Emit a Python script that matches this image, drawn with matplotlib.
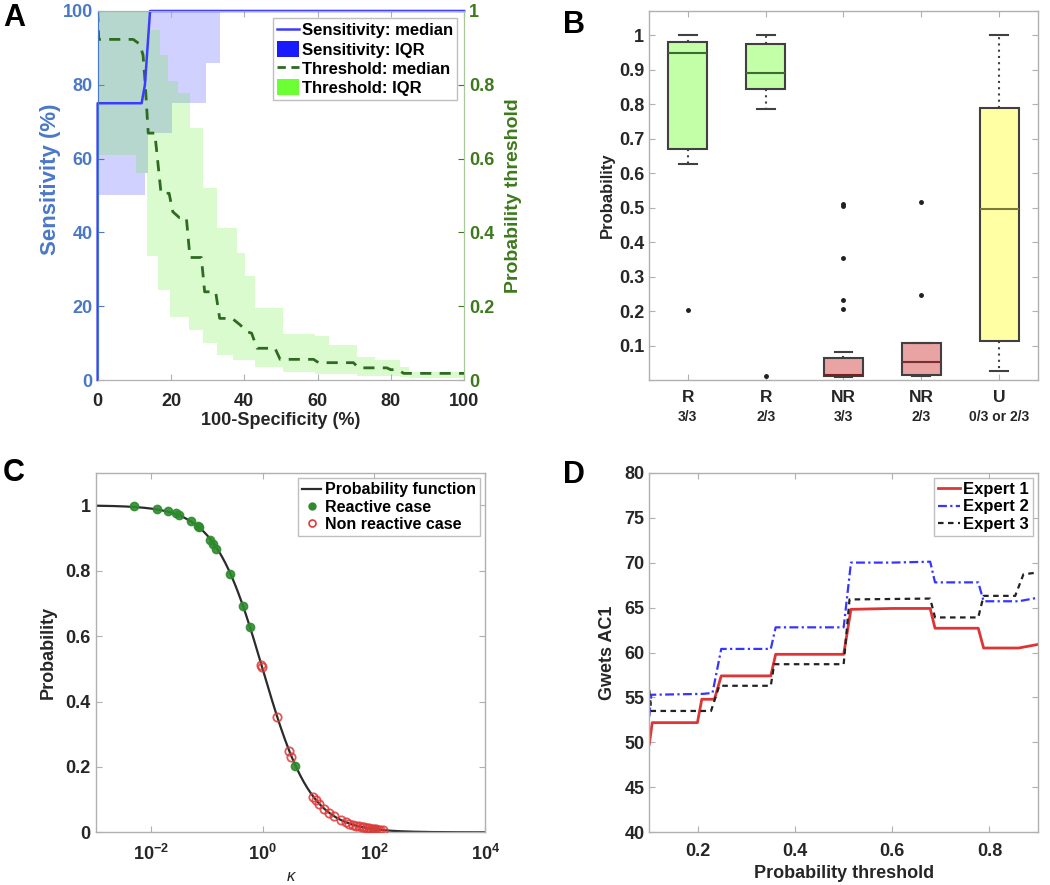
import numpy as np
import matplotlib
matplotlib.use('Agg')
import matplotlib.pyplot as plt
from matplotlib.lines import Line2D
from matplotlib.patches import Patch
from matplotlib.ticker import FuncFormatter

plt.rcParams['font.family'] = ['Liberation Sans', 'DejaVu Sans']
plt.rcParams['font.weight'] = 'bold'
plt.rcParams['axes.labelweight'] = 'bold'
plt.rcParams['mathtext.fontset'] = 'custom'
plt.rcParams['mathtext.rm'] = 'Liberation Sans:bold'
plt.rcParams['mathtext.bf'] = 'Liberation Sans:bold'
plt.rcParams['mathtext.it'] = 'Liberation Sans:bold:italic'
plt.rcParams['mathtext.default'] = 'bf'

# ---------------- Panel A data ----------------
sens_med_x = [0, 0, 12.0, 12.9, 14.3, 100]
sens_med_y = [0, 75, 75, 80, 100, 100]
sens_iqr_x = [0, 12.8, 13.8, 20.2, 29.7, 33.4, 100]
sens_iqr_lo = [50, 56, 67, 75, 85.8, 100, 100]
sens_iqr_hi = [100, 100, 100, 100, 100, 100, 100]

thr_iqr_x = [0, 10.6, 13.4, 14.3, 16.6, 17.0, 19.2, 19.7, 22.0, 24.8, 25.2, 28.8, 32.7,
             37.0, 37.9, 40.2, 42.9, 48.9, 50.7, 59.3, 63.0, 70.7, 75.6, 82.5, 85.0, 100]
thr_iqr_hi = [1.0, 1.0, 1.0, 0.948, 0.948, 0.88, 0.81, 0.81, 0.777, 0.777, 0.684, 0.52, 0.411,
              0.411, 0.343, 0.282, 0.194, 0.194, 0.125, 0.118, 0.095, 0.063, 0.054, 0.036, 0.022, 0.022]
thr_iqr_lo = [0.61, 0.56, 0.335, 0.335, 0.244, 0.244, 0.244, 0.172, 0.172, 0.136, 0.136, 0.099, 0.068,
              0.054, 0.054, 0.054, 0.036, 0.036, 0.022, 0.016, 0.016, 0.012, 0.010, 0.008, 0.005, 0.005]

thr_med_x = [0, 0.3, 9.7, 11.5, 12.4, 13.0, 13.8, 15.6, 17.3, 19.5, 20.5, 22.3, 24.2, 25.2, 28.3,
             29.2, 32.2, 33.3, 36.7, 38.8, 41.0, 42.0, 43.5, 48.4, 49.8, 58.9, 60.3, 69.8, 71.2,
             78.9, 80.0, 82.0, 83.5, 100]
thr_med_y = [1.0, 0.923, 0.923, 0.91, 0.88, 0.80, 0.669, 0.669, 0.506, 0.506, 0.456, 0.44, 0.44,
             0.332, 0.332, 0.239, 0.239, 0.167, 0.167, 0.150, 0.130, 0.127, 0.086, 0.086, 0.056,
             0.056, 0.047, 0.047, 0.033, 0.033, 0.028, 0.028, 0.018, 0.018]

# ---------------- Panel B data ----------------
b_group = ['R', 'R', 'NR', 'NR', 'U']
b_sub = ['3/3', '2/3', '3/3', '2/3', '0/3 or 2/3']
b_q1 = [0.671, 0.845, 0.012, 0.016, 0.1135]
b_med = [0.948, 0.891, 0.016, 0.051, 0.497]
b_q3 = [0.980, 0.975, 0.065, 0.107, 0.790]
b_whislo = [0.627, 0.787, 0.008, 0.012, 0.025]
b_whishi = [1.0, 1.0, 0.080, 0.107, 1.0]
b_fliers = [[0.203], [0.0105], [0.510, 0.505, 0.353, 0.232, 0.206], [0.517, 0.247], []]
b_face = ['#c2ffa6', '#c2ffa6', '#e9a3a3', '#e9a3a3', '#ffffa3']
b_medcol = ['#3f6a33', '#3f6a33', '#7a1f1f', '#7a2f2f', '#7a7a3a']

# ---------------- Panel C data ----------------
react_kappa = [0.0048, 0.0126, 0.020, 0.0282, 0.0309, 0.0525, 0.0692, 0.0708, 0.115, 0.129,
               0.148, 0.257, 0.443, 0.583, 3.76, 95.5]
react_prob = [0.997, 0.989, 0.982, 0.977, 0.972, 0.951, 0.936, 0.934, 0.895, 0.883,
              0.866, 0.790, 0.691, 0.628, 0.203, 0.010]
nonreact_kappa = [0.95, 0.97, 1.83, 3.0, 3.3, 8.0, 9.2, 10.5, 12.9, 15.8, 19.5, 25.7, 31.6, 36.0,
                  41.7, 48.0, 55.0, 60.0, 67.6, 75.0, 83.0, 90.0, 100.0, 110.0, 120.0, 130.0, 145.0]
nonreact_prob = [0.513, 0.507, 0.354, 0.249, 0.231, 0.109, 0.098, 0.088, 0.072, 0.060, 0.049,
                 0.037, 0.031, 0.027, 0.023, 0.020, 0.018, 0.016, 0.015, 0.013, 0.012, 0.011,
                 0.010, 0.009, 0.008, 0.0076, 0.007]

# ---------------- Panel D data ----------------
e1_x = [0.100, 0.106, 0.199, 0.208, 0.234, 0.248, 0.350, 0.360, 0.500, 0.515, 0.600, 0.678,
        0.688, 0.777, 0.788, 0.860, 0.900]
e1_y = [49.8, 52.2, 52.2, 54.8, 54.8, 57.4, 57.4, 59.8, 59.8, 64.8, 64.9, 64.9, 62.7, 62.7,
        60.5, 60.5, 60.9]
e2_x = [0.100, 0.104, 0.210, 0.230, 0.248, 0.350, 0.360, 0.500, 0.515, 0.600, 0.678, 0.688,
        0.777, 0.788, 0.860, 0.900]
e2_y = [52.9, 55.3, 55.4, 55.5, 60.4, 60.4, 62.8, 62.8, 70.0, 70.0, 70.1, 67.8, 67.8, 65.7,
        65.7, 66.1]
e3_x = [0.100, 0.104, 0.227, 0.244, 0.350, 0.357, 0.500, 0.512, 0.678, 0.688, 0.777, 0.788,
        0.853, 0.870, 0.900]
e3_y = [55.8, 53.5, 53.5, 56.3, 56.3, 58.7, 58.7, 65.9, 66.0, 63.9, 63.9, 66.3, 66.3, 68.7, 68.9]

# ---------------- styling helpers ----------------
GRAY = '#b0b0b0'
TXT = '#262626'
gfmt = FuncFormatter(lambda v, p: f'{v:g}')


def style_axes(ax, tick_size=13):
    for s in ax.spines.values():
        s.set_color(GRAY)
        s.set_linewidth(1.0)
    ax.tick_params(direction='in', length=4, width=0.8, color=GRAY,
                   labelsize=tick_size, labelcolor=TXT, top=True, right=True)


fig = plt.figure(figsize=(10.5, 8.85), dpi=100)

# ================= Panel A =================
blue_lab = '#4a78c8'
green_lab = '#3d7a1c'
axA = fig.add_axes([0.093, 0.5706, 0.349, 0.417])
axA2 = axA.twinx()
axA.fill_between(sens_iqr_x, sens_iqr_lo, sens_iqr_hi, step='post', color='#3030ff',
                 alpha=0.22, lw=0)
axA2.fill_between(thr_iqr_x, thr_iqr_lo, thr_iqr_hi, step='post', color='#55ee22',
                  alpha=0.22, lw=0)
axA2.plot(thr_med_x, thr_med_y, color='#2f6a22', lw=2, dashes=(4, 3))
axA2.plot(sens_med_x, sens_med_y, color='#3c3cff', lw=1.8, transform=axA.transData,
          clip_on=False)
axA.set_xlim(0, 100)
axA.set_ylim(0, 100)
axA2.set_ylim(0, 1)
axA.set_xticks([0, 20, 40, 60, 80, 100])
axA.set_yticks([0, 20, 40, 60, 80, 100])
axA2.set_yticks([0, 0.2, 0.4, 0.6, 0.8, 1.0])
axA2.yaxis.set_major_formatter(gfmt)
for ax in (axA, axA2):
    for s in ax.spines.values():
        s.set_color(GRAY)
axA.tick_params(axis='x', direction='in', length=4, color=GRAY, labelsize=13,
                labelcolor=TXT, top=True, pad=9)
axA.tick_params(axis='y', direction='in', length=4, color=blue_lab, labelsize=13,
                labelcolor=blue_lab)
axA2.tick_params(axis='y', direction='in', length=4, color=green_lab, labelsize=13,
                 labelcolor=green_lab)
axA2.spines['right'].set_color('#a8c89a')
axA2.spines['left'].set_color(blue_lab)
axA.set_xlabel('100-Specificity (%)', fontsize=13, color=TXT, labelpad=2)
axA.set_ylabel('Sensitivity (%)', fontsize=16, color=blue_lab, labelpad=4)
axA.yaxis.set_label_coords(-0.10, 0.545)
axA2.set_ylabel('Probability threshold', fontsize=14, color=green_lab, labelpad=8)
hA = [Line2D([], [], color='#3c3cff', lw=1.8),
      Patch(facecolor='#1a1aff', edgecolor='none'),
      Line2D([], [], color='#2f6a22', lw=2, dashes=(3, 2)),
      Patch(facecolor='#6cff33', edgecolor='none')]
lA = axA2.legend(hA, ['Sensitivity: median', 'Sensitivity: IQR', 'Threshold: median',
                      'Threshold: IQR'], loc='upper right', fontsize=12, frameon=True,
                 fancybox=False, edgecolor=GRAY, handlelength=1.3, handleheight=1.1,
                 handletextpad=0.2, borderpad=0.25, labelspacing=0.15, borderaxespad=0.4)
lA.get_frame().set_linewidth(1.0)

# ================= Panel B =================
axB = fig.add_axes([0.618, 0.5706, 0.3706, 0.417])
stats = []
for i in range(len(b_group)):
    stats.append(dict(med=b_med[i], q1=b_q1[i], q3=b_q3[i], whislo=b_whislo[i],
                      whishi=b_whishi[i], fliers=b_fliers[i]))
bp = axB.bxp(stats, positions=range(1, 6), widths=0.5, patch_artist=True, capwidths=0.23,
             boxprops=dict(edgecolor='#404040', linewidth=1.5),
             whiskerprops=dict(color='#404040', linewidth=1.5, linestyle=(0, (1, 2))),
             capprops=dict(color='#404040', linewidth=1.5),
             flierprops=dict(marker='.', markersize=5, markerfacecolor='#202020',
                             markeredgecolor='#202020', linestyle='none'),
             medianprops=dict(linewidth=1.5), manage_ticks=False)
for patch, fc in zip(bp['boxes'], b_face):
    patch.set_facecolor(fc)
for med, mc in zip(bp['medians'], b_medcol):
    med.set_color(mc)
axB.set_xlim(0.5, 5.5)
axB.set_ylim(0.0, 1.07)
axB.set_yticks([0.1, 0.2, 0.3, 0.4, 0.5, 0.6, 0.7, 0.8, 0.9, 1.0])
axB.yaxis.set_major_formatter(gfmt)
axB.set_xticks(range(1, 6))
axB.set_xticklabels(b_group)
style_axes(axB)
axB.tick_params(axis='x', pad=7, labelsize=12.5)
for i, s in enumerate(b_sub):
    axB.annotate(s, xy=(i + 1, 0), xycoords=('data', 'axes fraction'), xytext=(0, -26.5),
                 textcoords='offset points', ha='center', va='center', fontsize=10,
                 color=TXT)
axB.set_ylabel('Probability', fontsize=12, color=TXT, labelpad=3)

# ================= Panel C =================
axC = fig.add_axes([0.0911, 0.0595, 0.371, 0.4064])
kappa_curve = np.logspace(-3, 4, 500)
axC.plot(kappa_curve, 1.0 / (1.0 + kappa_curve), color='#2b2b2b', lw=1.6, zorder=2)
axC.plot(react_kappa, react_prob, 'o', color='#2e8b2e', ms=6, alpha=0.9, zorder=3)
axC.plot(nonreact_kappa, nonreact_prob, 'o', mfc='none', mec='#e03a3a', ms=6, mew=1.3,
         alpha=0.85, zorder=4)
axC.set_xscale('log')
axC.set_xlim(1e-3, 1e4)
axC.set_ylim(0, 1.1)
axC.set_xticks([1e-2, 1, 1e2, 1e4])
axC.set_xticklabels([r'$10^{-2}$', r'$10^{0}$', r'$10^{2}$', r'$10^{4}$'])
axC.xaxis.set_minor_locator(matplotlib.ticker.NullLocator())
axC.set_yticks([0, 0.2, 0.4, 0.6, 0.8, 1.0])
axC.yaxis.set_major_formatter(gfmt)
style_axes(axC)
axC.tick_params(axis='x', pad=8)
axC.set_xlabel('κ', fontsize=12, fontstyle='italic', fontweight='normal', color=TXT,
               labelpad=4)
axC.set_ylabel('Probability', fontsize=13, color=TXT, labelpad=6)
hC = [Line2D([], [], color='#2b2b2b', lw=1.6),
      Line2D([], [], marker='o', color='#2e8b2e', ms=5, ls='none'),
      Line2D([], [], marker='o', mfc='none', mec='#e03a3a', ms=5, mew=1.2, ls='none')]
lC = axC.legend(hC, ['Probability function', 'Reactive case', 'Non reactive case'],
                loc='upper right', fontsize=11.5, frameon=True, fancybox=False, edgecolor=GRAY,
                handlelength=1.2, handletextpad=0.2, borderpad=0.25, labelspacing=0.15,
                borderaxespad=0.35)
lC.get_frame().set_linewidth(1.0)

# ================= Panel D =================
axD = fig.add_axes([0.6184, 0.0595, 0.3702, 0.4064])
axD.plot(e1_x, e1_y, color='#dd3535', lw=2.0, label='Expert 1')
axD.plot(e2_x, e2_y, color='#3535ff', lw=1.6, dashes=(4, 1.5, 1, 1.5), label='Expert 2')
axD.plot(e3_x, e3_y, color='#222222', lw=1.6, dashes=(2.5, 2), label='Expert 3')
axD.set_xlim(0.1, 0.9)
axD.set_ylim(40, 80)
axD.set_xticks([0.2, 0.4, 0.6, 0.8])
axD.set_yticks([40, 45, 50, 55, 60, 65, 70, 75, 80])
axD.xaxis.set_major_formatter(gfmt)
style_axes(axD)
axD.tick_params(axis='x', pad=8)
axD.set_xlabel('Probability threshold', fontsize=13, color=TXT, labelpad=3)
axD.set_ylabel('Gwets AC1', fontsize=13, color=TXT, labelpad=6)
lD = axD.legend(loc='upper right', fontsize=12, frameon=True, fancybox=False, edgecolor=GRAY,
                handlelength=1.3, handletextpad=0.2, borderpad=0.25, labelspacing=0.15,
                borderaxespad=0.3)
lD.get_frame().set_linewidth(1.0)

# ================= Panel letters =================
for letter, (px, py) in zip('ABCD', [(3, 3), (563, 10), (3, 458), (563, 460)]):
    fig.text(px / 1050, 1 - py / 885, letter, fontsize=22, fontweight='bold', ha='left',
             va='top', color='black')

fig.savefig('out.png', dpi=100)
